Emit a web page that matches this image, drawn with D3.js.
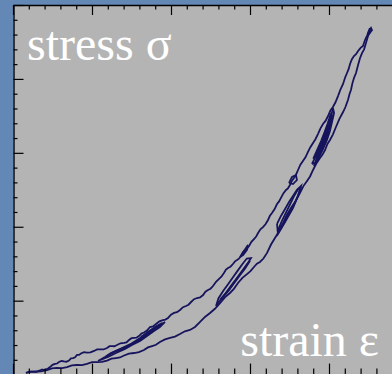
<!DOCTYPE html>
<html><head><meta charset="utf-8">
<script src="https://cdn.jsdelivr.net/npm/d3@7"></script>
<style>html,body{margin:0;padding:0;background:#6488b5;}svg{display:block;}</style>
</head><body>
<svg id="c" width="392" height="374"></svg>
<script>
// ---- data (strain and stress in tick units) ----
const strainTicks = d3.range(0, 25);
const stressTicks = d3.range(0, 26);
const labels = { stress: "stress σ", strain: "strain ε" };

const upperBranch = [[0.82,0.11],[1.05,0.20],[1.27,0.18],[1.49,0.19],[1.71,0.28],[1.84,0.35],[1.96,0.31],[2.15,0.37],[2.34,0.51],[2.50,0.66],[2.66,0.72],[2.79,0.75],[2.91,0.85],[3.07,0.92],[3.23,0.89],[3.38,0.87],[3.54,0.95],[3.67,1.10],[3.80,1.12],[3.93,1.17],[4.05,1.33],[4.18,1.33],[4.30,1.43],[4.49,1.52],[4.68,1.49],[4.90,1.50],[5.13,1.60],[5.32,1.70],[5.51,1.70],[5.73,1.70],[5.95,1.80],[6.11,1.92],[6.27,1.93],[6.42,1.92],[6.58,2.00],[6.80,2.12],[7.03,2.14],[7.18,2.18],[7.34,2.34],[7.50,2.46],[7.66,2.48],[7.81,2.50],[7.97,2.61],[8.13,2.78],[8.29,2.85],[8.48,2.98],[8.67,3.22],[8.86,3.26],[9.05,3.42],[9.27,3.60],[9.49,3.69],[9.65,3.72],[9.81,3.83],[10.00,4.05],[10.19,4.17],[10.38,4.22],[10.57,4.37],[10.76,4.56],[10.95,4.64],[11.11,4.73],[11.27,4.91],[11.46,5.10],[11.65,5.18],[11.84,5.22],[12.03,5.38],[12.18,5.61],[12.34,5.72],[12.50,5.81],[12.66,5.99],[12.85,6.28],[13.04,6.47],[13.19,6.62],[13.35,6.87],[13.48,7.10],[13.61,7.21],[13.76,7.30],[13.92,7.48],[14.05,7.66],[14.18,7.75],[14.30,7.84],[14.43,8.02],[14.55,8.28],[14.68,8.43],[14.81,8.52],[14.94,8.70],[15.09,8.98],[15.25,9.17],[15.38,9.32],[15.51,9.58],[15.66,9.83],[15.82,9.98],[15.98,10.17],[16.14,10.46],[16.26,10.74],[16.39,10.93],[16.55,11.18],[16.71,11.54],[16.83,11.70],[16.96,11.95],[17.12,12.27],[17.28,12.49],[17.40,12.60],[17.53,12.82],[17.65,13.10],[17.78,13.30],[17.91,13.52],[18.04,13.84],[18.19,14.20],[18.35,14.45],[18.51,14.70],[18.67,15.06],[18.83,15.40],[18.99,15.67],[19.14,15.92],[19.30,16.27],[19.46,16.66],[19.62,16.95],[19.78,17.16],[19.94,17.49],[20.09,17.86],[20.25,18.10],[20.41,18.42],[20.57,18.84],[20.73,19.30],[20.89,19.66],[21.01,20.06],[21.14,20.40],[21.24,20.66],[21.33,21.01],[21.45,21.33],[21.58,21.55],[21.71,21.67],[21.84,21.89],[22.00,22.10],[22.15,22.23],[22.25,22.55],[22.34,22.77],[22.40,22.90],[22.47,23.11],[22.59,23.44]];

const lowerBranch = [[0.82,0.11],[1.10,0.20],[1.39,0.21],[1.77,0.22],[2.15,0.31],[2.46,0.42],[2.78,0.45],[3.10,0.44],[3.42,0.51],[3.73,0.63],[4.05,0.65],[4.36,0.64],[4.68,0.72],[5.00,0.84],[5.32,0.85],[5.63,0.86],[5.95,0.95],[6.23,1.08],[6.52,1.12],[6.77,1.16],[7.03,1.29],[7.34,1.42],[7.66,1.46],[7.97,1.52],[8.29,1.66],[8.54,1.84],[8.80,1.93],[9.05,2.02],[9.30,2.20],[9.62,2.38],[9.94,2.48],[10.25,2.57],[10.57,2.75],[10.88,2.93],[11.20,3.02],[11.52,3.22],[11.84,3.56],[12.15,3.90],[12.47,4.17],[12.78,4.45],[13.10,4.84],[13.41,5.22],[13.73,5.52],[13.98,5.80],[14.24,6.20],[14.52,6.54],[14.81,6.80],[15.03,7.00],[15.25,7.28],[15.44,7.50],[15.63,7.62],[15.85,7.85],[16.08,8.23],[16.33,8.80],[16.58,9.24],[16.83,9.68],[17.09,10.25],[17.34,10.82],[17.59,11.27],[17.87,11.70],[18.16,12.28],[18.38,12.75],[18.61,13.10],[18.80,13.40],[18.99,13.84],[19.21,14.30],[19.43,14.65],[19.59,14.88],[19.75,15.19],[19.90,15.60],[20.06,15.87],[20.25,16.25],[20.44,16.75],[20.66,17.30],[20.89,17.76],[21.04,18.10],[21.20,18.57],[21.30,18.98],[21.39,19.25],[21.48,19.70],[21.58,20.06],[21.71,20.40],[21.84,20.94],[21.96,21.40],[22.09,21.75],[22.22,22.00],[22.34,22.43],[22.47,22.90],[22.66,23.38]];

const tipKnot = [[22.47,23.11],[22.66,23.45],[22.72,23.30],[22.55,23.05],[22.47,23.11]];
const loopA = [[5.38,0.92],[5.82,1.19],[6.20,1.46],[6.65,1.66],[7.15,1.87],[7.59,2.07],[8.04,2.41],[8.42,2.75],[8.80,3.02],[9.18,3.29],[9.62,3.56],[9.30,3.22],[8.92,2.95],[8.48,2.61],[8.04,2.27],[7.53,2.00],[7.09,1.73],[6.52,1.46],[6.01,1.19],[5.38,0.92]];
const loopA2 = [[8.10,2.54],[8.54,2.88],[8.99,3.22],[9.43,3.49],[9.18,3.22],[8.73,2.88],[8.29,2.54],[8.10,2.54]];
const loopA3 = [[6.00,1.30],[6.50,1.60],[7.00,1.85],[7.50,2.10],[8.00,2.45],[8.50,2.80],[9.00,3.10],[8.70,2.85],[8.20,2.50],[7.70,2.20],[7.20,1.95],[6.70,1.70],[6.00,1.30]];
const loopB = [[12.85,4.64],[13.23,5.18],[13.61,5.65],[13.92,6.13],[14.24,6.60],[14.56,7.07],[14.87,7.55],[15.06,7.88],[14.80,7.85],[14.50,7.45],[14.20,7.00],[13.90,6.55],[13.60,6.10],[13.30,5.65],[13.00,5.15],[12.85,4.64]];
const loopB2 = [[14.37,7.95],[14.62,8.36],[14.87,8.77],[14.81,8.43],[14.56,8.09],[14.37,7.95]];
const loopB3 = [[13.10,5.05],[13.45,5.50],[13.80,6.00],[14.15,6.50],[14.50,7.00],[14.80,7.45],[15.00,7.70],[14.70,7.20],[14.35,6.70],[14.00,6.20],[13.65,5.70],[13.30,5.25],[13.10,5.05]];
const loopC = [[16.71,10.19],[16.96,10.73],[17.22,11.20],[17.47,11.67],[17.72,12.08],[17.97,12.49],[18.23,12.76],[18.10,12.28],[17.91,11.74],[17.72,11.27],[17.47,10.80],[17.22,10.32],[16.96,9.85],[16.77,9.51],[16.71,10.19]];
const loopC2 = [[17.47,12.96],[17.66,13.37],[17.91,13.50],[17.97,13.16],[17.72,12.89],[17.47,12.96]];
const loopC3 = [[16.75,9.70],[17.00,10.35],[17.30,11.00],[17.55,11.55],[17.80,12.10],[18.05,12.55],[18.20,12.60],[18.00,12.00],[17.75,11.45],[17.50,10.95],[17.20,10.40],[16.95,9.90],[16.75,9.70]];
const loopD = [[18.92,14.25],[19.18,14.79],[19.43,15.39],[19.68,15.94],[19.87,16.48],[20.06,17.09],[20.25,18.03],[20.32,17.69],[20.19,17.09],[20.06,16.48],[19.87,15.87],[19.62,15.26],[19.37,14.72],[19.18,14.32],[18.92,14.25]];
const loopD2 = [[19.05,14.10],[19.30,14.65],[19.55,15.25],[19.78,15.85],[19.98,16.50],[20.15,17.20],[20.05,16.90],[19.80,16.20],[19.55,15.55],[19.30,14.90],[19.05,14.10]];
const loopD3 = [[19.00,14.60],[19.25,15.20],[19.50,15.80],[19.72,16.40],[19.92,17.00],[20.10,17.60],[20.20,17.50],[20.00,16.90],[19.80,16.30],[19.55,15.70],[19.30,15.10],[19.00,14.60]];

const curves = [upperBranch, lowerBranch, tipKnot, loopA, loopA2, loopA3, loopB, loopB2, loopB3, loopC, loopC2, loopC3, loopD, loopD2, loopD3];

// ---- drawing ----
const W = 392, H = 374;
const svg = d3.select("#c");
const x = d3.scaleLinear().domain([0, 24]).range([13, 392.2]);
const y = d3.scaleLinear().domain([0, 25]).range([374.6, 5]);

svg.append("rect").attr("x", 0).attr("y", 0).attr("width", W).attr("height", H).attr("fill", "#6488b5");
svg.append("rect").attr("x", x(0)).attr("y", y(25)).attr("width", W - x(0)).attr("height", H - y(25)).attr("fill", "#b4b4b4");

const line = d3.line().x(d => x(d[0])).y(d => y(d[1]));
svg.append("g").selectAll("path").data(curves).join("path")
  .attr("d", line).attr("fill", "none").attr("stroke", "#16145c")
  .attr("stroke-width", 1.8).attr("stroke-linejoin", "miter");

function styleTicks(g) {
  g.select(".domain").attr("stroke", "#000").attr("stroke-width", 1.4);
  g.selectAll(".tick line").attr("stroke", "#000").attr("stroke-width", 1.2);
  g.selectAll("text").remove();
}
// left axis, ticks inward
const gl = svg.append("g").attr("transform", `translate(${x(0) + 0.5},0)`)
  .call(d3.axisRight(y).tickValues(stressTicks).tickSize(4).tickSizeOuter(0).tickFormat(""));
styleTicks(gl);
gl.selectAll(".tick line").attr("x2", d => d % 5 === 0 ? 10 : 4);
// top axis, ticks downward
const gt = svg.append("g").attr("transform", `translate(0,${y(25)})`)
  .call(d3.axisBottom(x).tickValues(strainTicks).tickSize(4).tickSizeOuter(0).tickFormat(""));
styleTicks(gt);
gt.selectAll(".tick line").attr("y2", d => d % 5 === 0 ? 10 : 4.5);
// bottom axis, ticks upward
const gb = svg.append("g").attr("transform", `translate(0,${y(0)})`)
  .call(d3.axisTop(x).tickValues(strainTicks).tickSize(6).tickSizeOuter(0).tickFormat(""));
styleTicks(gb);
gb.selectAll(".tick line").attr("y2", d => d % 5 === 0 ? -11 : -6);

svg.append("text").attr("x", 27).attr("y", 60).text(labels.stress)
  .attr("font-family", "'Liberation Serif','Times New Roman',serif").attr("font-size", 48).attr("fill", "#fff");
svg.append("text").attr("x", 379).attr("y", 356).attr("text-anchor", "end").text(labels.strain)
  .attr("font-family", "'Liberation Serif','Times New Roman',serif").attr("font-size", 48).attr("fill", "#fff");
</script>
</body></html>
